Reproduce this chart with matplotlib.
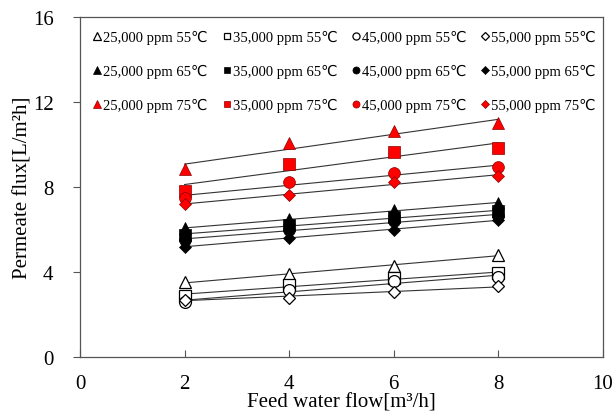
import numpy as np
import matplotlib
matplotlib.use("Agg")
import matplotlib.pyplot as plt

plt.rcParams["font.family"] = ["Liberation Serif", "DejaVu Sans"]

flow = [2, 4, 6, 8]
concentrations = ["25,000", "35,000", "45,000", "55,000"]
temperatures = ["55", "65", "75"]

# permeate flux per (concentration, temperature)
flux = {
    ("25,000", "55"): [3.51, 3.90, 4.30, 4.80],
    ("35,000", "55"): [2.89, 3.39, 3.70, 3.94],
    ("45,000", "55"): [2.57, 3.17, 3.56, 3.75],
    ("55,000", "55"): [2.70, 2.80, 3.07, 3.33],
    ("25,000", "65"): [6.05, 6.50, 6.90, 7.25],
    ("35,000", "65"): [5.75, 6.20, 6.60, 6.85],
    ("45,000", "65"): [5.50, 6.00, 6.40, 6.65],
    ("55,000", "65"): [5.20, 5.60, 6.00, 6.45],
    ("25,000", "75"): [8.85, 10.05, 10.63, 11.00],
    ("35,000", "75"): [7.83, 9.10, 9.63, 9.83],
    ("45,000", "75"): [7.47, 8.25, 8.64, 8.92],
    ("55,000", "75"): [7.20, 7.62, 8.22, 8.53],
}

markers = {"25,000": "^", "35,000": "s", "45,000": "o", "55,000": "D"}
sizes = {"25,000": 9, "35,000": 8, "45,000": 8.5, "55,000": 6.5}
face = {"55": "white", "65": "black", "75": "red"}
edge = {"55": "black", "65": "black", "75": "#8b0000"}

fig = plt.figure(figsize=(6.13, 4.14), dpi=100)
ax = fig.add_axes([0.1305, 0.1353, 0.853, 0.821])

x = np.array(flow)
handles = []
labels = []
for c in concentrations:
    for t in temperatures:
        y = np.array(flux[(c, t)])
        # linear trend line
        k, b = np.polyfit(x, y, 1)
        ax.plot(x, k * x + b, color="#333333", linewidth=0.8, zorder=2)
        h, = ax.plot(
            x, y,
            linestyle="none",
            marker=markers[c],
            markersize=sizes[c],
            markerfacecolor=face[t],
            markeredgecolor=edge[t],
            markeredgewidth=0.9 if t == "55" else 0.5,
            zorder=3,
        )
        handles.append(h)
        labels.append(f"{c} ppm {t}℃")

ax.set_xlim(0, 10)
ax.set_ylim(0, 16)
ax.set_xticks([0, 2, 4, 6, 8, 10])
ax.set_yticks([0, 4, 8, 12, 16])
ax.tick_params(axis="x", direction="in", length=5, labelsize=15, pad=12, color="#555555")
ax.tick_params(axis="y", direction="out", length=5, labelsize=15, pad=14, color="#555555")
for s in ax.spines.values():
    s.set_color("#555555")
    s.set_linewidth(0.9)

ax.set_xlabel("Feed water flow[m³/h]", fontsize=15, labelpad=0)
ax.set_ylabel("Permeate flux[L/m²h]", fontsize=15, labelpad=0)

ax.legend(
    handles, labels,
    ncol=4,
    loc="upper left",
    bbox_to_anchor=(0.0, 1.0),
    frameon=False,
    fontsize=10.5,
    markerscale=0.6,
    handlelength=0.6,
    handletextpad=0.1,
    columnspacing=1.0,
    labelspacing=1.35,
    borderaxespad=0.5,
)

fig.savefig("out.png", dpi=100)
